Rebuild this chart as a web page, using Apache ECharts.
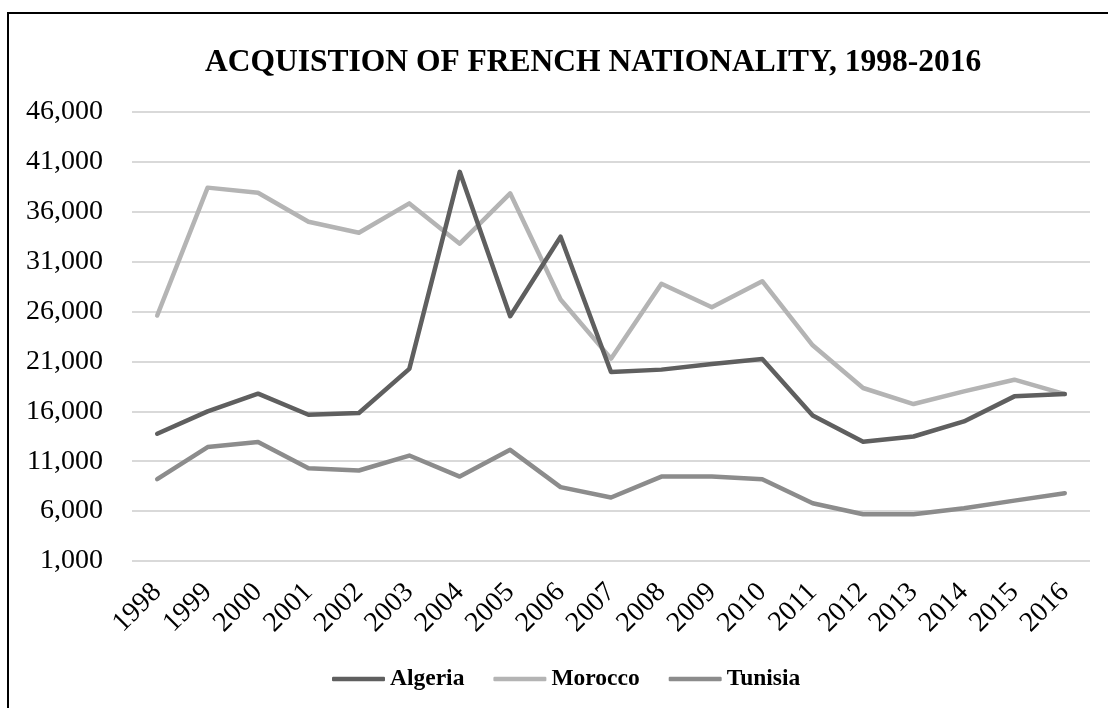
<!DOCTYPE html>
<html>
<head>
<meta charset="utf-8">
<script src="https://cdn.jsdelivr.net/npm/echarts@6/dist/echarts.min.js"></script>
<style>
html,body{margin:0;padding:0;background:#fff;}
#chart{width:1108px;height:708px;}
</style>
</head>
<body>
<div id="chart"></div>
<script>
const years = ['1998','1999','2000','2001','2002','2003','2004','2005','2006','2007','2008','2009','2010','2011','2012','2013','2014','2015','2016'];
const algeria = [13750,16000,17770,15660,15830,20250,40000,25530,33500,19950,20180,20750,21250,15590,12950,13480,14990,17500,17730];
const morocco = [25600,38420,37900,35000,33900,36840,32800,37850,27200,21280,28780,26430,29040,22620,18340,16730,18000,19170,17730];
const tunisia = [9200,12420,12920,10300,10070,11570,9460,12140,8400,7360,9460,9460,9200,6790,5690,5690,6290,7050,7800];
const seriesNames = ['Algeria','Morocco','Tunisia'];
const yMin = 1000, yMax = 46000, yStep = 5000;
const titleText = 'ACQUISTION OF FRENCH NATIONALITY, 1998-2016';

const font = '"Liberation Serif", "Times New Roman", serif';
const colors = ['#5f5f5f', '#b4b4b4', '#8c8c8c'];
const chart = echarts.init(document.getElementById('chart'));
const mk = (name, data, i) => ({
  name: name, type: 'line', data: data, symbol: 'none', smooth: false,
  lineStyle: {width: 4.5, color: colors[i], cap: 'round', join: 'round'},
  itemStyle: {color: colors[i]}, z: 3 - i
});
chart.setOption({
  animation: false,
  backgroundColor: '#fff',
  title: {
    text: titleText, left: 200, top: 42,
    textStyle: {fontFamily: font, fontWeight: 'bold', fontSize: 31.5, color: '#000'}
  },
  legend: {
    data: seriesNames, left: 332, top: 667, padding: 0, itemWidth: 53, itemHeight: 4.5, itemGap: 29,
    icon: 'roundRect',
    textStyle: {fontFamily: font, fontWeight: 'bold', fontSize: 23.5, color: '#000'}
  },
  grid: {left: 132, right: 18, top: 112, bottom: 147},
  xAxis: {
    type: 'category', data: years, boundaryGap: true,
    axisLine: {show: false}, axisTick: {show: false},
    axisLabel: {rotate: 45, margin: 27, fontFamily: font, fontSize: 28, color: '#000', interval: 0}
  },
  yAxis: {
    type: 'value', min: yMin, max: yMax, interval: yStep,
    axisLine: {show: false}, axisTick: {show: false},
    splitLine: {lineStyle: {color: '#d9d9d9', width: 2}},
    axisLabel: {margin: 29, fontFamily: font, fontSize: 28, color: '#000',
      formatter: v => v.toLocaleString('en-US')}
  },
  graphic: [{
    type: 'rect', shape: {x: 8, y: 13, width: 1200, height: 800},
    style: {fill: 'none', stroke: '#000', lineWidth: 2}, silent: true
  }],
  series: [mk(seriesNames[0], algeria, 0), mk(seriesNames[1], morocco, 1), mk(seriesNames[2], tunisia, 2)]
});
</script>
</body>
</html>
